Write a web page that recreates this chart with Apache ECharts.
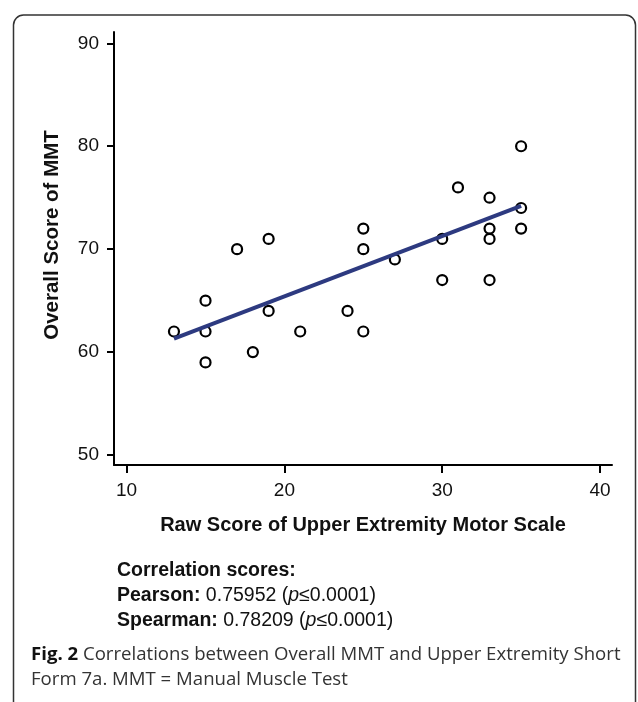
<!DOCTYPE html>
<html>
<head>
<meta charset="utf-8">
<script src="https://cdn.jsdelivr.net/npm/echarts@6/dist/echarts.min.js"></script>
<style>
html,body{margin:0;padding:0;background:#fff;}
#main{width:638px;height:702px;}
</style>
</head>
<body>
<div id="main"></div>
<script>
// Data
const xValues = [13, 15, 15, 15, 17, 18, 19, 19, 21, 24, 25, 25, 25, 27, 30, 30, 31, 33, 33, 33, 33, 35, 35, 35];
const yValues = [62, 62, 65, 59, 70, 60, 71, 64, 62, 64, 72, 70, 62, 69, 71, 67, 76, 75, 72, 71, 67, 80, 74, 72];
const trendX = [13, 35];
const trendY = [61.3, 74.2];
const xTicks = [10, 20, 30, 40];
const yTicks = [50, 60, 70, 80, 90];
const xTitle = 'Raw Score of Upper Extremity Motor Scale';
const yTitle = 'Overall Score of MMT';
const pearson = '0.75952';
const spearman = '0.78209';
const pText = '≤0.0001)';

const points = xValues.map((x, i) => [x, yValues[i]]);
const trend = trendX.map((x, i) => [x, trendY[i]]);

const FONT = "'Liberation Sans', Arial, Helvetica, sans-serif";
const CAP = "'Open Sans', 'Noto Sans', sans-serif";

const chart = echarts.init(document.getElementById('main'), null, {renderer: 'canvas'});
chart.setOption({
  animation: false,
  backgroundColor: '#fff',
  grid: {left: 114, top: 32, width: 498, height: 433, containLabel: false},
  xAxis: {
    type: 'value', min: 9.2, max: 40.76,
    axisLine: {show: true, onZero: false, lineStyle: {color: '#000', width: 2}},
    axisTick: {show: true, length: 8, lineStyle: {color: '#000', width: 2}, customValues: xTicks},
    axisLabel: {customValues: xTicks, margin: 16, fontFamily: FONT, fontSize: 19, color: '#111'},
    splitLine: {show: false}
  },
  yAxis: {
    type: 'value', min: 49.03, max: 91.1,
    axisLine: {show: true, onZero: false, lineStyle: {color: '#000', width: 2}},
    axisTick: {show: true, length: 7, lineStyle: {color: '#000', width: 2}, customValues: yTicks},
    axisLabel: {customValues: yTicks, margin: 15, fontFamily: FONT, fontSize: 19, color: '#111'},
    splitLine: {show: false}
  },
  series: [
    {
      type: 'scatter', data: points, symbol: 'circle', symbolSize: 10, z: 2,
      itemStyle: {color: '#fff', borderColor: '#000', borderWidth: 2.2, opacity: 1}
    },
    {
      type: 'line', data: trend, showSymbol: false, z: 3,
      lineStyle: {color: '#2d3a80', width: 4}
    }
  ],
  graphic: [
    {
      type: 'rect', z: -1, silent: true,
      shape: {x: 13.5, y: 15, width: 622, height: 700, r: 10},
      style: {fill: 'none', stroke: '#333', lineWidth: 1.5}
    },
    {
      type: 'text', x: 363, y: 525,
      style: {text: xTitle, font: 'bold 20px ' + FONT, fill: '#111', textAlign: 'center', textVerticalAlign: 'middle'}
    },
    {
      type: 'text', x: 52, y: 235, rotation: Math.PI / 2,
      style: {text: yTitle, font: 'bold 20.5px ' + FONT, fill: '#111', textAlign: 'center', textVerticalAlign: 'middle'}
    },
    {
      type: 'text', x: 117, y: 571,
      style: {text: 'Correlation scores:', font: 'bold 19.5px ' + FONT, fill: '#111', textVerticalAlign: 'middle'}
    },
    {
      type: 'text', x: 117, y: 596,
      style: {
        text: '{b|Pearson: }{r|' + pearson + ' (}{i|p}{r|' + pText + '}',
        textVerticalAlign: 'middle',
        rich: {
          b: {font: 'bold 19.5px ' + FONT, fill: '#111'},
          r: {font: '19.5px ' + FONT, fill: '#111'},
          i: {font: 'italic 19.5px ' + FONT, fill: '#111'}
        }
      }
    },
    {
      type: 'text', x: 117, y: 621,
      style: {
        text: '{b|Spearman: }{r|' + spearman + ' (}{i|p}{r|' + pText + '}',
        textVerticalAlign: 'middle',
        rich: {
          b: {font: 'bold 19.5px ' + FONT, fill: '#111'},
          r: {font: '19.5px ' + FONT, fill: '#111'},
          i: {font: 'italic 19.5px ' + FONT, fill: '#111'}
        }
      }
    },
    {
      type: 'text', x: 31, y: 655,
      style: {
        text: '{b|Fig. 2 }{r|Correlations between Overall MMT and Upper Extremity Short}',
        textVerticalAlign: 'middle',
        rich: {
          b: {font: 'bold 18.6px ' + CAP, fill: '#111'},
          r: {font: '18.6px ' + CAP, fill: '#333'}
        }
      }
    },
    {
      type: 'text', x: 31, y: 680,
      style: {text: 'Form 7a. MMT = Manual Muscle Test', font: '18.6px ' + CAP, fill: '#333', textVerticalAlign: 'middle'}
    }
  ]
});
</script>
</body>
</html>
